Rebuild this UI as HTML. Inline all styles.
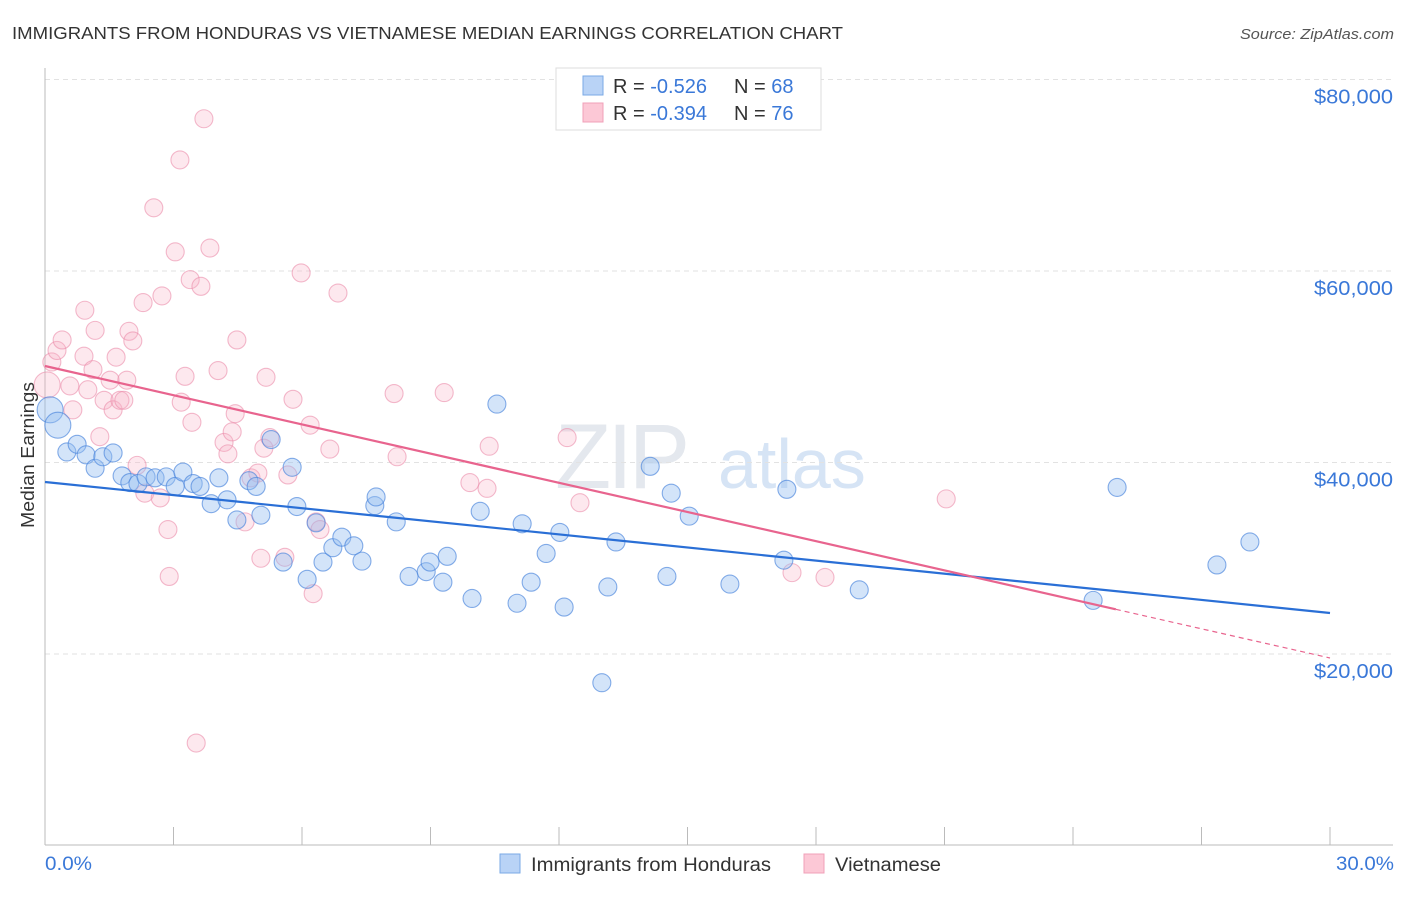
<!DOCTYPE html>
<html><head><meta charset="utf-8"><style>
body{margin:0;background:#fff;font-family:"Liberation Sans",sans-serif;}
svg text{font-family:"Liberation Sans",sans-serif;}
</style></head><body>
<svg id="chart" width="1406" height="892" xmlns="http://www.w3.org/2000/svg">
<text x="12" y="39" font-size="17.5" fill="#333" textLength="831" lengthAdjust="spacingAndGlyphs">IMMIGRANTS FROM HONDURAS VS VIETNAMESE MEDIAN EARNINGS CORRELATION CHART</text>
<text x="1394" y="39" font-size="15" fill="#555" text-anchor="end" font-style="italic" textLength="154" lengthAdjust="spacingAndGlyphs">Source: ZipAtlas.com</text>
<text x="555" y="488" font-size="92" fill="#e4e8ee" font-family="Liberation Serif" letter-spacing="-4">ZIP</text>
<text x="718" y="488" font-size="70" fill="#d6e4f5">atlas</text>
<g id="grid"></g>
<g id="axes"></g>
<g id="pts"></g>
<g id="lines"></g>
<text transform="translate(34,455) rotate(-90)" font-size="18" fill="#333" text-anchor="middle" textLength="146" lengthAdjust="spacingAndGlyphs">Median Earnings</text>
<text x="45" y="870" font-size="19" fill="#3a78d8" textLength="47" lengthAdjust="spacingAndGlyphs">0.0%</text>
<text x="1394" y="870" font-size="19" fill="#3a78d8" text-anchor="end" textLength="58" lengthAdjust="spacingAndGlyphs">30.0%</text>
<g>
<rect x="556" y="68" width="265" height="62" fill="#fff" stroke="#ddd"/>
<rect x="583" y="76" width="20" height="19" fill="#b9d3f6" stroke="#7aaae6"/>
<rect x="583" y="103" width="20" height="19" fill="#fcc8d6" stroke="#f0a0b8"/>
<text x="613" y="93" font-size="20" fill="#333">R = <tspan fill="#3a78d8">-0.526</tspan></text>
<text x="734" y="93" font-size="20" fill="#333">N = <tspan fill="#3a78d8">68</tspan></text>
<text x="613" y="120" font-size="20" fill="#333">R = <tspan fill="#3a78d8">-0.394</tspan></text>
<text x="734" y="120" font-size="20" fill="#333">N = <tspan fill="#3a78d8">76</tspan></text>
</g>
<g><rect x="500" y="854" width="20" height="19" fill="#b9d3f6" stroke="#7aaae6"/><text x="531" y="871" font-size="19" fill="#333" textLength="240" lengthAdjust="spacingAndGlyphs">Immigrants from Honduras</text></g>
<g><rect x="804" y="854" width="20" height="19" fill="#fcc8d6" stroke="#f0a0b8"/><text x="835" y="871" font-size="19" fill="#333" textLength="106" lengthAdjust="spacingAndGlyphs">Vietnamese</text></g>
</svg>
<script>
const yTicks=[20000,40000,60000,80000];
const yTickLabels=["$20,000","$40,000","$60,000","$80,000"];
const xTicks=[0,3,6,9,12,15,18,21,24,27,30];
const blueX=[0.12,0.30,0.51,0.75,0.96,1.17,1.35,1.59,1.80,1.98,2.17,2.36,2.57,2.83,3.04,3.22,3.46,3.62,3.88,4.06,4.25,4.48,4.76,4.93,5.04,5.28,5.56,5.77,5.88,6.12,6.33,6.49,6.72,6.93,7.21,7.40,7.70,7.73,8.20,8.50,8.90,8.99,9.29,9.39,9.97,10.16,10.55,11.02,11.14,11.35,11.70,12.02,12.12,13.00,13.14,13.33,14.13,14.52,14.62,15.04,15.99,17.25,17.32,19.01,24.47,25.03,27.36,28.13];
const blueY=[45.5,43.9,41.1,41.9,40.8,39.4,40.6,41.0,38.6,37.9,37.8,38.5,38.4,38.5,37.5,39.0,37.8,37.5,35.7,38.4,36.1,34.0,38.1,37.5,34.5,42.4,29.6,39.5,35.4,27.8,33.7,29.6,31.1,32.2,31.3,29.7,35.5,36.4,33.8,28.1,28.6,29.6,27.5,30.2,25.8,34.9,46.1,25.3,33.6,27.5,30.5,32.7,24.9,17.0,27.0,31.7,39.6,28.1,36.8,34.4,27.3,29.8,37.2,26.7,25.6,37.4,29.3,31.7];
const pinkX=[0.05,0.16,0.28,0.40,0.58,0.65,0.93,0.91,1.00,1.12,1.17,1.28,1.38,1.52,1.59,1.66,1.75,1.84,1.91,1.96,2.05,2.15,2.29,2.33,2.54,2.69,2.73,2.87,2.90,3.04,3.15,3.18,3.27,3.39,3.43,3.53,3.64,3.71,3.85,4.04,4.18,4.27,4.37,4.44,4.48,4.67,4.81,4.97,5.04,5.11,5.16,5.25,5.60,5.67,5.79,5.98,6.19,6.26,6.33,6.42,6.65,6.84,8.15,8.22,9.32,9.92,10.32,10.37,12.19,12.49,17.44,18.21,21.04];
const pinkY=[48.1,50.5,51.7,52.8,48.0,45.5,55.9,51.1,47.6,49.7,53.8,42.7,46.5,48.6,45.5,51.0,46.5,46.5,48.6,53.7,52.7,39.7,56.7,36.8,66.6,36.3,57.4,33.0,28.1,62.0,71.6,46.3,49.0,59.1,44.2,10.7,58.4,75.9,62.4,49.6,42.1,40.9,43.2,45.1,52.8,33.8,38.4,38.9,30.0,41.5,48.9,42.6,30.1,38.7,46.6,59.8,43.9,26.3,33.8,33.0,41.4,57.7,47.2,40.6,47.3,37.9,37.3,41.7,42.6,35.8,28.5,28.0,36.2];
const blueTrend=[37964,24282];
const pinkTrend=[50079,19582];
const pinkSolidEnd=25;
const NS="http://www.w3.org/2000/svg";
const sx=v=>45+v*(1285/30);
const sy=v=>654-(v-20000)*191.5/20000;
function mk(tag,attrs,parent){const e=document.createElementNS(NS,tag);for(const k in attrs)e.setAttribute(k,attrs[k]);parent.appendChild(e);return e;}
const grid=document.getElementById('grid'),axes=document.getElementById('axes'),pts=document.getElementById('pts'),lines=document.getElementById('lines');
yTicks.forEach((t,i)=>{
 const g=mk('line',{x1:45,x2:1393,y1:sy(t),y2:sy(t),stroke:'#e2e2e2','stroke-dasharray':'5,4'},grid);
 
 
 const l=mk('text',{x:1393,y:sy(t)+24,'font-size':20,fill:'#3a78d8','text-anchor':'end',textLength:79,lengthAdjust:'spacingAndGlyphs'},grid);
 l.textContent=yTickLabels[i];
 
 
});
const ya=mk('line',{x1:45,x2:45,y1:68,y2:845,stroke:'#bbb'},axes);


const xa=mk('line',{x1:45,x2:1393,y1:845,y2:845,stroke:'#bbb'},axes);


xTicks.forEach(t=>{
 const tk=mk('line',{x1:sx(t),x2:sx(t),y1:827,y2:845,stroke:'#bbb'},axes);
 
 
});
function dots(X,Y,fill,stroke,name){
 X.forEach((x,i)=>{
  const r=(i<2&&name==='honduras-point')||(i===0&&name==='vietnamese-point')?13:9;
  const c=mk('circle',{cx:sx(x),cy:sy(Y[i]*1000),r:r,fill:fill,stroke:stroke,'stroke-width':1.1},pts);
  
  
 });
}
dots(pinkX,pinkY,'rgba(248,180,200,0.3)','rgba(235,140,170,0.6)','vietnamese-point');
dots(blueX,blueY,'rgba(150,190,240,0.42)','rgba(70,130,220,0.65)','honduras-point');
const bl=mk('line',{x1:sx(0),y1:sy(blueTrend[0]),x2:sx(30),y2:sy(blueTrend[1]),stroke:'#2a6fd6','stroke-width':2.2},lines);


const pm=pinkTrend[0]+(pinkTrend[1]-pinkTrend[0])*pinkSolidEnd/30;
const pl=mk('line',{x1:sx(0),y1:sy(pinkTrend[0]),x2:sx(pinkSolidEnd),y2:sy(pm),stroke:'#e8648e','stroke-width':2.2},lines);


const pd=mk('line',{x1:sx(pinkSolidEnd),y1:sy(pm),x2:sx(30),y2:sy(pinkTrend[1]),stroke:'#e8648e','stroke-width':1.2,'stroke-dasharray':'5,4'},lines);


</script>
</body></html>
